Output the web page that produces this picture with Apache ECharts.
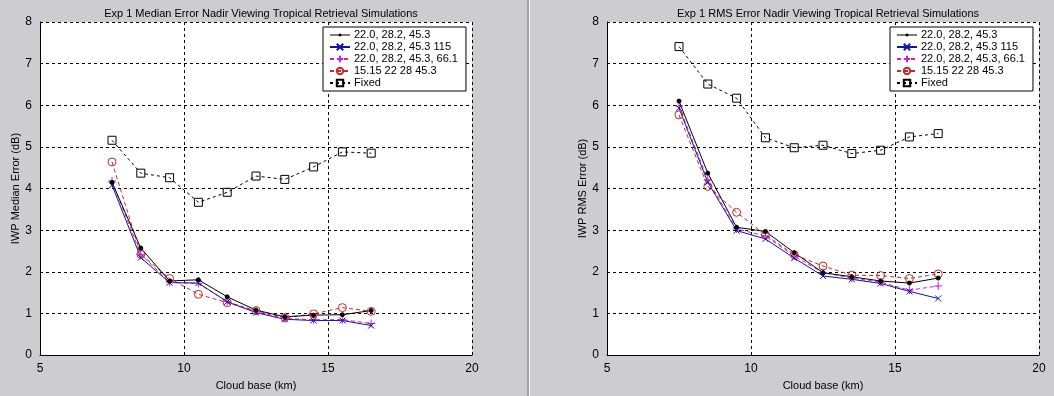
<!DOCTYPE html>
<html>
<head>
<meta charset="utf-8">
<script src="https://cdn.jsdelivr.net/npm/echarts@6/dist/echarts.min.js"></script>
<style>
  html, body { margin: 0; padding: 0; background: #cdccd0; }
  #main { width: 1054px; height: 396px; }
</style>
</head>
<body>
<div id="main"></div>
<script>
const main = document.getElementById('main')

// cloud base heights (km), shared by both panels
const cloudBase = [7.5, 8.5, 9.5, 10.5, 11.5, 12.5, 13.5, 14.5, 15.5, 16.5]
const seriesNames = ['22.0, 28.2, 45.3', '22.0, 28.2, 45.3 115', '22.0, 28.2, 45.3, 66.1', '15.15 22 28 45.3', 'Fixed']

// left panel: median error (dB)
const medianA = [4.15, 2.57, 1.78, 1.81, 1.40, 1.08, 0.92, 0.96, 0.97, 1.07]
const medianB = [4.08, 2.34, 1.74, 1.73, 1.28, 1.02, 0.86, 0.83, 0.83, 0.71]
const medianC = [4.18, 2.42, 1.75, 1.72, 1.29, 1.05, 0.88, 0.85, 0.85, 0.76]
const medianD = [4.64, 2.42, 1.84, 1.46, 1.26, 1.07, 0.90, 0.99, 1.14, 1.05]
const medianFixed = [5.16, 4.37, 4.26, 3.67, 3.91, 4.30, 4.22, 4.52, 4.88, 4.85]

// right panel: rms error (dB)
const rmsA = [6.10, 4.37, 3.07, 2.97, 2.46, 1.98, 1.88, 1.78, 1.73, 1.85]
const rmsB = [5.93, 4.15, 2.99, 2.79, 2.33, 1.90, 1.82, 1.72, 1.53, 1.36]
const rmsC = [5.98, 4.21, 3.03, 2.86, 2.38, 1.98, 1.85, 1.75, 1.56, 1.66]
const rmsD = [5.77, 4.05, 3.43, 2.89, 2.41, 2.14, 1.92, 1.91, 1.84, 1.95]
const rmsFixed = [7.41, 6.51, 6.17, 5.22, 4.98, 5.04, 4.84, 4.92, 5.24, 5.32]

const xTicks = [5, 10, 15, 20]
const yTicks = [0, 1, 2, 3, 4, 5, 6, 7, 8]

const font = '"Liberation Sans", Arial, sans-serif'
const crossPath = 'path://M0,0L10,10M10,0L0,10'
const plusPath = 'path://M5,0L5,10M0,5L10,5'
// legend icon for the dot series: thin line with a small dot (corner specks fix the box)
const dotLinePath = 'path://M0,0H0.01V0.01H0Z M0,3.9H20V4.1H0Z M9,3H11V5H9Z M19.99,7.99H20V8H19.99Z'

const styles = [
  {color: '#000000', type: 'solid', symbol: 'circle', size: 4, fill: '#000000'},
  {color: '#1414a0', type: 'solid', symbol: crossPath, size: 6, fill: '#1414a0'},
  {color: '#d21ed2', type: [4, 3], symbol: plusPath, size: 8, fill: '#d21ed2'},
  {color: '#c82828', type: [4, 3], symbol: 'circle', size: 8, fill: 'rgba(0,0,0,0)'},
  {color: '#000000', type: [3, 3], symbol: 'rect', size: 8, fill: 'rgba(0,0,0,0)'}
]

function makeSeries(idx, vals, gridIdx) {
  const s = styles[idx]
  return {
    name: seriesNames[idx],
    type: 'line',
    xAxisIndex: gridIdx,
    yAxisIndex: gridIdx,
    data: cloudBase.map((x, i) => [x, vals[i]]),
    color: s.color,
    symbol: s.symbol,
    symbolSize: s.size,
    showAllSymbol: true,
    lineStyle: {color: s.color, width: 1, type: s.type},
    itemStyle: {color: s.fill, borderColor: s.color, borderWidth: 1},
    emphasis: {disabled: true}
  }
}

function xAxis(gridIdx) {
  return {
    type: 'value', gridIndex: gridIdx, min: 5, max: 20, interval: 5,
    name: 'Cloud base (km)', nameLocation: 'middle', nameGap: 19,
    nameTextStyle: {color: '#000', fontSize: 11, fontFamily: font},
    axisLine: {show: true, onZero: false, lineStyle: {color: '#000', width: 1}},
    axisTick: {show: false},
    axisLabel: {color: '#000', fontSize: 12, fontFamily: font, margin: 8,
      formatter: v => xTicks.includes(v) ? String(v) : ''},
    splitLine: {show: true, lineStyle: {color: '#000', type: [3, 3], width: 1}}
  }
}

function yAxis(gridIdx, name) {
  return {
    type: 'value', gridIndex: gridIdx, min: 0, max: 8, interval: 1,
    name: name, nameLocation: 'middle', nameGap: 19, nameRotate: 90,
    nameTextStyle: {color: '#000', fontSize: 11, fontFamily: font},
    axisLine: {show: true, onZero: false, lineStyle: {color: '#000', width: 1}},
    axisTick: {show: false},
    axisLabel: {color: '#000', fontSize: 12, fontFamily: font, margin: 8,
      formatter: v => yTicks.includes(v) ? String(v) : ''},
    splitLine: {show: true, lineStyle: {color: '#000', type: [3, 3], width: 1}}
  }
}

function legend(left) {
  return {
    data: seriesNames.map((n, i) => i === 0 ? {name: n, icon: dotLinePath, itemStyle: {borderWidth: 0.6}} : {name: n}),
    orient: 'vertical', left: left, top: 27,
    backgroundColor: '#fff', borderColor: '#000', borderWidth: 1,
    padding: [2, 8, 2, 6], itemGap: 0, itemWidth: 20, itemHeight: 8,
    selectedMode: false,
    textStyle: {color: '#000', fontSize: 11, fontFamily: font, lineHeight: 12, padding: [0, 0, 0, -1]}
  }
}

const myChart = echarts.init(main, null, {renderer: 'canvas'})

myChart.setOption({
  animation: false,
  backgroundColor: '#cdccd0',
  title: [
    {text: 'Exp 1 Median Error Nadir Viewing Tropical Retrieval Simulations', left: 256, top: 3, textAlign: 'center',
      textStyle: {fontSize: 11, fontWeight: 'normal', color: '#000', fontFamily: font}},
    {text: 'Exp 1 RMS Error Nadir Viewing Tropical Retrieval Simulations', left: 823, top: 3, textAlign: 'center',
      textStyle: {fontSize: 11, fontWeight: 'normal', color: '#000', fontFamily: font}}
  ],
  legend: [legend(323), legend(890)],
  grid: [
    {left: 40, top: 22, width: 432, height: 335, show: true, backgroundColor: '#fff', borderWidth: 0},
    {left: 607, top: 22, width: 432, height: 335, show: true, backgroundColor: '#fff', borderWidth: 0}
  ],
  xAxis: [xAxis(0), xAxis(1)],
  yAxis: [yAxis(0, 'IWP Median Error (dB)'), yAxis(1, 'IWP RMS Error (dB)')],
  graphic: [
    {type: 'rect', shape: {x: 527, y: 0, width: 2, height: 396}, style: {fill: '#a4a4a8'}, silent: true},
    {type: 'rect', shape: {x: 529, y: 0, width: 1, height: 396}, style: {fill: '#f4f4f4'}, silent: true}
  ],
  series: [
    makeSeries(4, medianFixed, 0),
    makeSeries(3, medianD, 0),
    makeSeries(2, medianC, 0),
    makeSeries(1, medianB, 0),
    makeSeries(0, medianA, 0),
    makeSeries(4, rmsFixed, 1),
    makeSeries(3, rmsD, 1),
    makeSeries(2, rmsC, 1),
    makeSeries(1, rmsB, 1),
    makeSeries(0, rmsA, 1)
  ]
})
</script>
</body>
</html>
